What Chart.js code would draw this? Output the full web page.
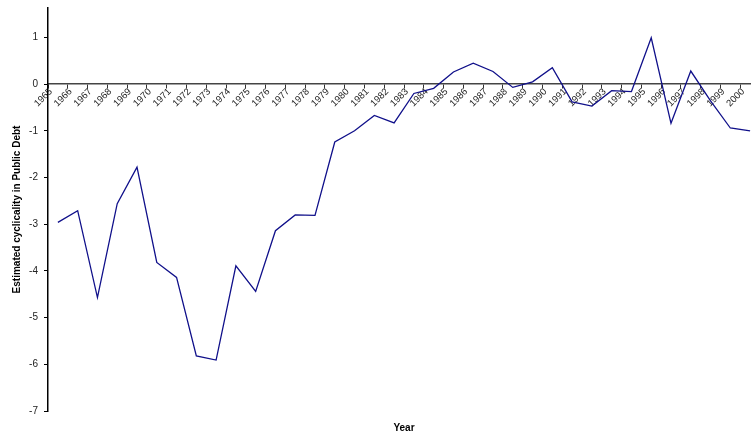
<!DOCTYPE html>
<html>
<head>
<meta charset="utf-8">
<script src="https://cdn.jsdelivr.net/npm/chart.js@4/dist/chart.umd.min.js"></script>
<style>
  html, body { margin: 0; padding: 0; background: #fff; overflow: hidden; }
  #wrap { width: 770px; height: 438px; }
</style>
</head>
<body>
<div id="wrap"><canvas id="Graph_Debt" width="770" height="438"></canvas></div>
<script>
// years on the x axis
var years = [];
for (var y = 1965; y <= 2000; y++) years.push(String(y));

// estimated cyclicality
var cyclicality = [
    -2.96, -2.71, -4.57, -2.56, -1.78, -3.82, -4.14, -5.82, -5.91, -3.89,
    -4.44, -3.14, -2.80, -2.81, -1.24, -1.00, -0.67, -0.83, -0.20, -0.09,
     0.26,  0.45,  0.27, -0.07,  0.05,  0.35, -0.38, -0.47, -0.14, -0.16,
     0.99, -0.84,  0.28, -0.36, -0.94, -1.00
];

var yTicks = [-7, -6, -5, -4, -3, -2, -1, 0, 1];
var yMin = -7;
var yMax = 1.63;

var fontName = "'Liberation Sans', Arial, sans-serif";

// stop the scales from pushing the plot area down
function noVerticalPadding(scale) {
    scale.paddingTop = 0;
    scale.paddingBottom = 0;
}

var ctx = document.getElementById("Graph_Debt").getContext("2d");
var graph = new Chart(ctx, {
    type: "line",
    data: {
        labels: years,
        datasets: [{
            label: "Estimated cyclicality in Public Debt",
            data: cyclicality,
            borderColor: "#10108a",
            borderWidth: 1.3,
            pointRadius: 0,
            fill: false,
            tension: 0
        }]
    },
    options: {
        responsive: false,
        animation: false,
        layout: { padding: { top: 8, right: 10, left: 0, bottom: 0 } },
        plugins: {
            legend: { display: false },
            tooltip: { enabled: false },
            title: {
                display: true,
                text: "Year",
                position: "bottom",
                fullSize: false,
                color: "#000",
                font: { family: fontName, size: 10, weight: "bold" },
                padding: { top: 11, bottom: 4 }
            }
        },
        scales: {
            x: {
                type: "category",
                offset: true,
                position: { y: 0 },
                afterFit: noVerticalPadding,
                border: { display: true, color: "#444", width: 1.5 },
                grid: {
                    offset: true,
                    drawOnChartArea: false,
                    drawTicks: true,
                    tickLength: 4,
                    color: "#333"
                },
                ticks: {
                    autoSkip: false,
                    minRotation: 45,
                    maxRotation: 45,
                    labelOffset: -7,
                    padding: -2,
                    color: "#222",
                    font: { family: fontName, size: 9.5 }
                }
            },
            y: {
                min: yMin,
                max: yMax,
                afterBuildTicks: function (scale) {
                    scale.ticks = yTicks.map(function (v) { return { value: v }; });
                },
                afterFit: function (scale) {
                    scale.width = 48;
                    noVerticalPadding(scale);
                },
                border: { display: true, color: "#000", width: 1.5 },
                grid: {
                    drawOnChartArea: false,
                    drawTicks: true,
                    tickLength: 4,
                    color: "#000"
                },
                ticks: {
                    padding: 6,
                    color: "#222",
                    font: { family: fontName, size: 10 }
                },
                title: {
                    display: true,
                    text: "Estimated cyclicality in Public Debt",
                    color: "#000",
                    font: { family: fontName, size: 10, weight: "bold" },
                    padding: { top: 11, bottom: 4 }
                }
            }
        }
    }
});
</script>
</body>
</html>
